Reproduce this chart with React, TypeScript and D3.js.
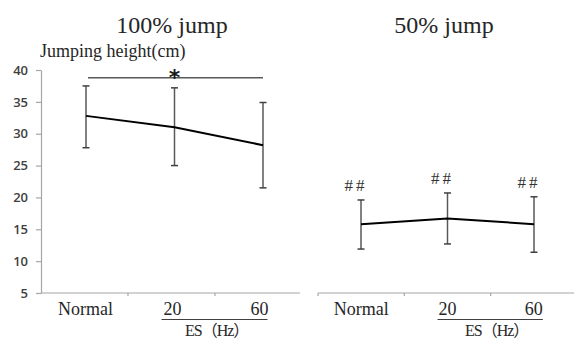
import React, { useEffect, useRef } from "react";
import * as d3 from "d3";

const categories = ["Normal", "20", "60"];
const yTicks = [5, 10, 15, 20, 25, 30, 35, 40];

// 100% jump: mean and SD limits (cm)
const fullMean = [32.8, 31.0, 28.2];
const fullUpper = [37.5, 37.2, 34.9];
const fullLower = [27.8, 25.0, 21.5];
const fullSigLevel = 38.8;

// 50% jump
const halfMean = [15.8, 16.7, 15.8];
const halfUpper = [19.6, 20.7, 20.1];
const halfLower = [11.9, 12.7, 11.4];
const halfMarks = ["##", "##", "##"];

const serif = "'Liberation Serif', 'Times New Roman', 'DejaVu Serif', serif";
const esFont = "'Liberation Serif', 'Noto Sans CJK JP', serif";

const App = () => {
  const ref = useRef<SVGSVGElement>(null);

  useEffect(() => {
    const svg = d3.select(ref.current);
    svg.selectAll("*").remove();

    const y = d3.scaleLinear().domain([5, 40]).range([293, 70]);

    const panels = [
      {
        title: "100% jump", titleX: 172, band: [41, 302], pts: [86, 263],
        mean: fullMean, upper: fullUpper, lower: fullLower, axisEnd: 300, esX: 185,
      },
      {
        title: "50% jump", titleX: 444, band: [318, 577], pts: [361, 534],
        mean: halfMean, upper: halfUpper, lower: halfLower, axisEnd: 574, esX: 465,
      },
    ];

    panels.forEach((p, pi) => {
      const xb = d3.scaleBand().domain(categories).range(p.band as [number, number]);
      const xp = d3.scalePoint().domain(categories).range(p.pts as [number, number]);
      const g = svg.append("g");

      // title
      g.append("text")
        .attr("x", p.titleX).attr("y", 33)
        .attr("text-anchor", "middle")
        .style("font-family", serif).style("font-size", "24px")
        .attr("fill", "#262626")
        .text(p.title);

      // x axis line + tick marks
      g.append("line")
        .attr("x1", p.band[0]).attr("x2", p.axisEnd)
        .attr("y1", y(5)).attr("y2", y(5))
        .attr("stroke", "#a6a6a6").attr("stroke-width", 1.2);
      const bounds = categories.map((c) => xb(c)!);
      g.selectAll(".xt").data(pi === 0 ? bounds.slice(1) : bounds).enter()
        .append("line")
        .attr("x1", (d) => d).attr("x2", (d) => d)
        .attr("y1", y(5)).attr("y2", y(5) + 3)
        .attr("stroke", "#a6a6a6").attr("stroke-width", 1.2);

      // category labels
      g.selectAll(".xl").data(categories).enter()
        .append("text")
        .attr("x", (d) => xb(d)! + xb.bandwidth() / 2 + (pi === 0 ? 1 : 0))
        .attr("y", 315)
        .attr("text-anchor", "middle")
        .style("font-family", serif).style("font-size", "18px")
        .attr("fill", "#262626")
        .text((d) => d);

      // ES(Hz) group line and label
      const x20 = xb("20")! + xb.bandwidth() / 2;
      const x60 = xb("60")! + xb.bandwidth() / 2;
      g.append("line")
        .attr("x1", x20 - 10).attr("x2", x60 + 9)
        .attr("y1", 319.5).attr("y2", 319.5)
        .attr("stroke", "#404040").attr("stroke-width", 1.2);
      g.append("text")
        .attr("x", p.esX).attr("y", 336)
        .style("font-family", esFont).style("font-size", "16px")
        .style("letter-spacing", "-1px")
        .attr("fill", "#262626")
        .text("ES（Hz）");

      // error bars
      categories.forEach((c, i) => {
        const cx = xp(c)!;
        g.append("line")
          .attr("x1", cx).attr("x2", cx)
          .attr("y1", y(p.upper[i])).attr("y2", y(p.lower[i]))
          .attr("stroke", "#595959").attr("stroke-width", 1.5);
        [p.upper[i], p.lower[i]].forEach((v) => {
          g.append("line")
            .attr("x1", cx - 3.5).attr("x2", cx + 3.5)
            .attr("y1", y(v)).attr("y2", y(v))
            .attr("stroke", "#404040").attr("stroke-width", 1.5);
        });
      });

      // mean line
      const line = d3.line<number>()
        .x((_, i) => xp(categories[i])!)
        .y((d) => y(d));
      g.append("path")
        .datum(p.mean)
        .attr("d", line)
        .attr("fill", "none")
        .attr("stroke", "#000")
        .attr("stroke-width", 2);
    });

    // y axis (left panel only)
    const yAxis = svg.append("g")
      .attr("transform", "translate(41,0)")
      .call(d3.axisLeft(y).tickValues(yTicks).tickSize(5).tickSizeOuter(0).tickPadding(8));
    yAxis.select(".domain").attr("stroke", "#a6a6a6").attr("stroke-width", 1.2);
    yAxis.selectAll(".tick line").attr("stroke", "#a6a6a6").attr("stroke-width", 1.2);
    yAxis.selectAll(".tick text")
      .attr("fill", "#404040")
      .style("font-family", "'Open Sans', 'Liberation Sans', sans-serif")
      .style("font-size", "13px")
      .style("font-weight", "600");

    svg.append("text")
      .attr("x", 40).attr("y", 57)
      .style("font-family", serif).style("font-size", "18px")
      .attr("fill", "#262626")
      .text("Jumping height(cm)");

    // significance bar over 100% jump
    const xpL = d3.scalePoint().domain(categories).range([86, 263]);
    svg.append("line")
      .attr("x1", xpL("Normal")! + 2).attr("x2", xpL("60")!)
      .attr("y1", y(fullSigLevel)).attr("y2", y(fullSigLevel))
      .attr("stroke", "#595959").attr("stroke-width", 1.5);
    svg.append("text")
      .attr("x", xpL("20")!).attr("y", y(fullSigLevel) + 7)
      .attr("text-anchor", "middle")
      .style("font-family", "'DejaVu Sans', sans-serif")
      .style("font-size", "22px").style("font-weight", "bold")
      .attr("fill", "#1a1a1a")
      .text("*");

    // ## marks on 50% jump
    const xpR = d3.scalePoint().domain(categories).range([361, 534]);
    svg.selectAll(".hm").data(halfMarks).enter()
      .append("text")
      .attr("x", (_, i) => xpR(categories[i])! - 5)
      .attr("y", (_, i) => y(halfUpper[i]) - 9)
      .attr("text-anchor", "middle")
      .style("font-family", serif).style("font-size", "17px")
      .style("letter-spacing", "3px")
      .attr("fill", "#333")
      .text((d) => d);
  }, []);

  return (
    <svg
      ref={ref}
      width={574}
      height={340}
      style={{ position: "absolute", left: 0, top: 0, background: "#fff" }}
    />
  );
};

export default App;
